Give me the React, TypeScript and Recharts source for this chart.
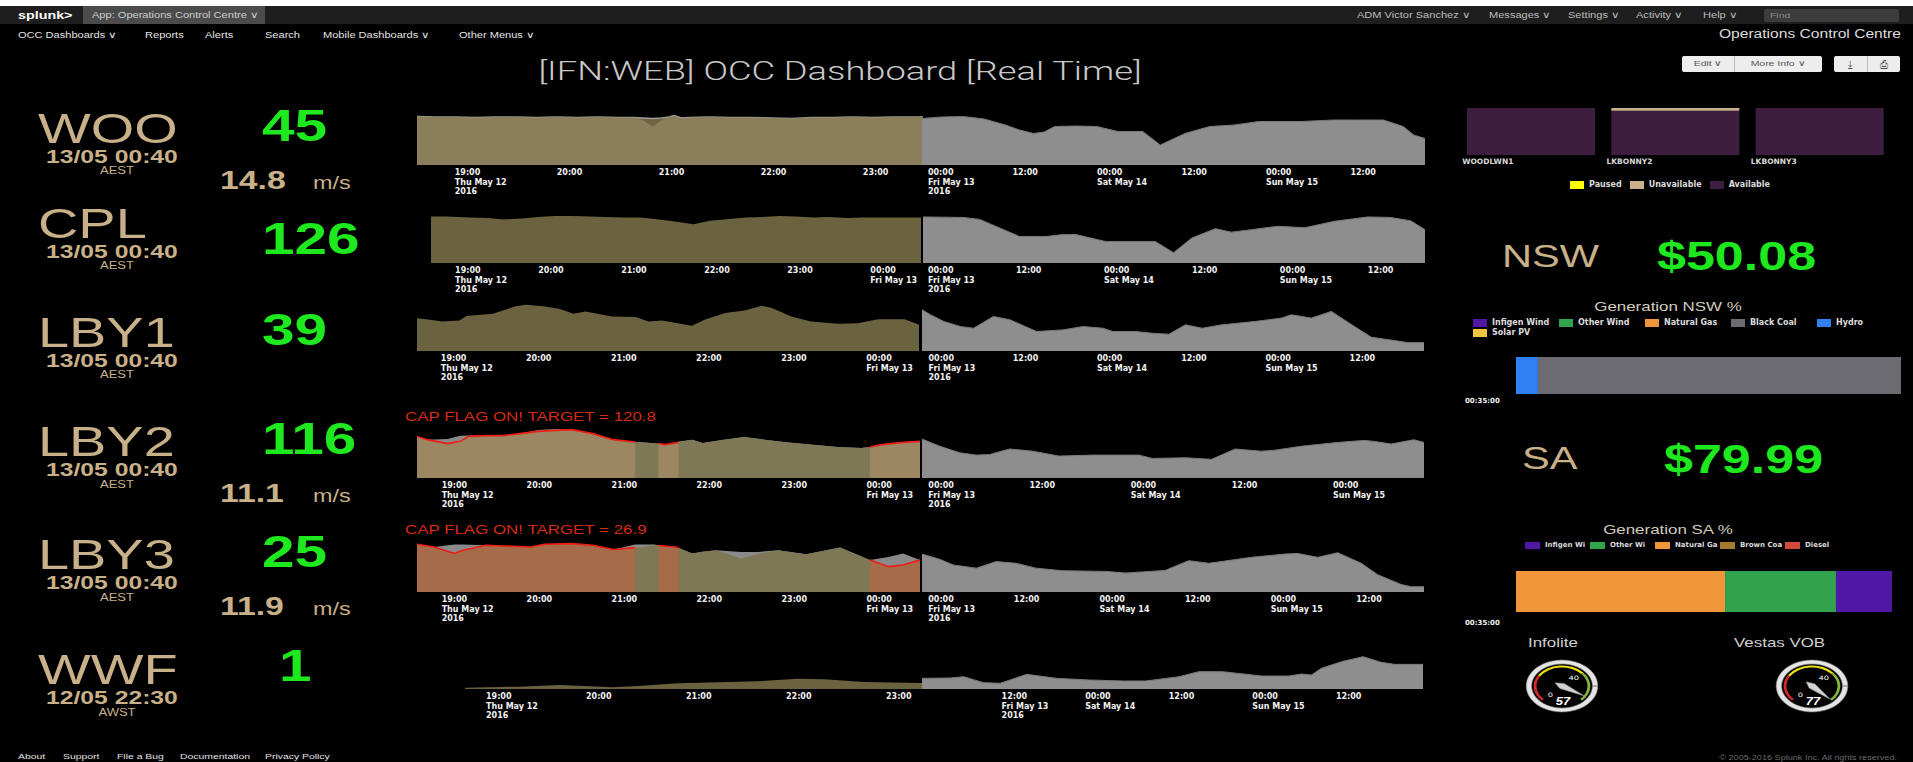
import React from "react";
import { ComposedChart, Area, Line, XAxis, YAxis, BarChart, Bar, PieChart, Pie, Cell } from "recharts";

// the screenshot is stretched sideways, so text gets the same stretch
const SX = 1.3;
const SANS = "'Liberation Sans', Arial, sans-serif";
const ROBOTO = "Roboto, 'Liberation Sans', sans-serif";
const TINY = "'DejaVu Sans', sans-serif";
const TAN = "#c8b088";
const GREEN = "#1ee81e";

// ---- site summary ----
const SITES = ["WOO", "CPL", "LBY1", "LBY2", "LBY3", "WWF"];
const SITE_MW = [45, 126, 39, 116, 25, 1];
const SITE_STAMP = ["13/05 00:40", "13/05 00:40", "13/05 00:40", "13/05 00:40", "13/05 00:40", "12/05 22:30"];
const SITE_TZ = ["AEST", "AEST", "AEST", "AEST", "AEST", "AWST"];
const SITE_WIND: (number | null)[] = [14.8, null, null, 11.1, 11.9, null];
const CAP_TARGET: (number | null)[] = [null, null, null, 120.8, 26.9, null];

// ---- realtime trends, hours after 19:00 Thu May 12 ----
const WOO_T = [-0.37, -0.2, 0, 0.2, 0.4, 0.6, 0.8, 1.0, 1.2, 1.4, 1.6, 1.75, 1.84, 1.94, 2.03, 2.1, 2.15, 2.22, 2.3, 2.5, 2.7, 2.9, 3.1, 3.3, 3.5, 3.7, 3.9, 4.1, 4.3, 4.59];
const WOO_OUT = [97, 96, 96, 95, 96, 96, 95, 96, 95, 96, 95, 95, 90, 77, 90, 96, 99, 91, 95, 96, 95, 95, 94, 93, 95, 95, 96, 95, 96, 96];
const WOO_AVAIL = [97, 96, 96, 95, 96, 96, 95, 96, 95, 96, 95, 95, 94, 93, 94, 96, 99, 94, 95, 96, 95, 95, 94, 93, 95, 95, 96, 95, 96, 96];

const CPL_T = [-0.29, -0.1, 0.17, 0.4, 0.58, 0.8, 1.0, 1.2, 1.4, 1.63, 1.8, 2.03, 2.23, 2.4, 2.58, 2.75, 2.87, 3.07, 3.3, 3.5, 3.7, 3.9, 4.1, 4.32, 4.5, 4.73, 4.9, 5.15, 5.4, 5.61];
const CPL_V = [95, 95, 93, 92, 89, 91, 94, 96, 96, 95, 94, 93, 93, 90, 86, 82, 79, 86, 90, 93, 94, 96, 95, 93, 94, 92, 93, 93, 93, 93];

const LBY1_T = [-0.29, -0.17, 0.02, 0.22, 0.3, 0.61, 0.88, 1.0, 1.2, 1.39, 1.56, 1.7, 2.01, 2.29, 2.44, 2.6, 2.95, 3.1, 3.34, 3.57, 3.77, 3.89, 4.12, 4.35, 4.67, 4.9, 5.14, 5.45, 5.62];
const LBY1_V = [68.5, 66, 61.5, 63.6, 73, 77.6, 93, 96.5, 93, 88, 77.6, 82.5, 72, 70.6, 61.5, 63.6, 52.4, 65, 79, 84.6, 94.4, 89.5, 72, 61.5, 56.6, 58, 66.4, 66.4, 54.5];

const LBY2_T = [-0.29, -0.17, 0.07, 0.22, 0.32, 0.52, 0.72, 0.92, 1.13, 1.33, 1.53, 1.78, 2.02, 2.28, 2.34, 2.55, 2.63, 2.79, 2.95, 3.07, 3.32, 3.56, 3.8, 4.05, 4.37, 4.66, 4.94, 5.04, 5.18, 5.43, 5.63];
const LBY2_V = [83, 76.7, 68.7, 73.3, 83.3, 84.7, 84.7, 88.7, 93.3, 95.3, 96.7, 88.7, 76.7, 72, 71.3, 69, 66.7, 71.3, 76.7, 70, 76.7, 82, 76.7, 71.3, 66.7, 62, 60, 62, 66.7, 71.3, 73.3];
const LBY2_POT = [83, 76.7, 78, 84.7, 85, 84.7, 84.7, 88.7, 96, 98, 98, 88.7, 76.7, 72, 71.3, 69, 66.7, 73, 76.7, 70, 76.7, 82, 76.7, 71.3, 66.7, 62, 60, 62, 66.7, 71.3, 73.3];
const LBY2_FLAG = [1, 1, 1, 1, 1, 1, 1, 1, 1, 1, 1, 1, 1, 1, 0, 1, 1, 1, 0, 0, 0, 0, 0, 0, 0, 0, 0, 1, 1, 1, 1];

const LBY3_T = [-0.29, -0.09, 0.15, 0.25, 0.52, 0.84, 1.05, 1.21, 1.53, 1.78, 2.02, 2.28, 2.34, 2.51, 2.55, 2.75, 2.79, 2.95, 3.07, 3.23, 3.52, 3.72, 3.96, 4.29, 4.69, 5.04, 5.26, 5.43, 5.63];
const LBY3_V = [95.4, 90, 77, 83.6, 93.4, 91.4, 90, 95.4, 96.7, 93.4, 84.9, 88.8, 89, 93.4, 93, 90, 88, 77, 80.3, 83.6, 67, 75.7, 83.6, 75.7, 88.8, 63.8, 50.7, 54, 63.8];
const LBY3_POT = [95.4, 90, 95, 95, 93.4, 91.4, 90, 95.4, 96.7, 93.4, 84.9, 95, 95, 95, 93, 90, 88, 77, 80.3, 83.6, 80, 80, 83.6, 75.7, 88.8, 63.8, 70, 77, 63.8];
const LBY3_FLAG = [1, 1, 1, 1, 1, 1, 1, 1, 1, 1, 1, 1, 0, 0, 1, 1, 1, 0, 0, 0, 0, 0, 0, 0, 0, 1, 1, 1, 1];

const WWF_T = [-0.21, 0.33, 0.73, 0.99, 1.26, 1.52, 1.92, 2.32, 2.72, 3.11, 3.38, 3.78, 4.36];
const WWF_V = [3, 5.3, 9, 6.8, 3.8, 6.8, 12.9, 15.2, 17.4, 23.5, 22, 15.9, 13.6];

// ---- forecasts, hours after 00:00 Fri May 13 ----
const WOO_RH = [-0.85, 2, 5, 8, 11, 13, 15, 16.5, 18, 21, 24, 27, 30.5, 33, 36.5, 40, 43.5, 47, 53, 57.6, 61, 64.7, 67.5, 69, 70.6];
const WOO_RV = [93, 96, 97, 92, 80, 70, 63, 66, 77, 78, 77, 67, 67, 40, 63, 77, 80, 87, 87, 90, 90, 90, 77, 60, 53];
const CPL_RH = [-0.68, 4.8, 7.05, 12.5, 16.1, 18.35, 20.2, 24.2, 31, 33.5, 36, 39.2, 41.4, 44.1, 47.75, 51.4, 55.4, 60, 63.1, 65.85, 67.8];
const CPL_RV = [94, 93, 89, 54, 54, 58, 58, 44, 44, 21, 51, 70, 63, 68, 75, 72, 85, 94, 93, 86, 68];
const LBY1_RH = [-0.93, 0.28, 2.18, 4.53, 6.42, 9.25, 11.6, 15.4, 19.15, 22, 24.85, 26.25, 29.5, 31.9, 34.25, 36.6, 39, 41.8, 46.5, 50.3, 51.7, 54.55, 57.4, 60.7, 63.1, 66.4, 68.3, 70.6];
const LBY1_RV = [86, 75.5, 61.5, 51, 47.5, 72, 65, 40.6, 44, 51, 47.5, 40.6, 40.6, 37, 35, 54.5, 47.5, 54.5, 61.5, 68.5, 75.5, 68.5, 82.5, 51, 28.7, 21.7, 17.5, 17.5];
const LBY2_RH = [-0.75, 1.38, 3.74, 5.7, 7.28, 9.64, 12.4, 15.5, 19.5, 25, 26.55, 30.5, 33.6, 36.4, 39.5, 41.1, 44.2, 48.6, 51.7, 52.9, 54.9, 57.6, 58.8];
const LBY2_RV = [77.8, 63.4, 50.3, 45.8, 47, 58, 53.6, 43.8, 45.8, 45.8, 39.2, 40.5, 37.3, 58, 53.6, 55.6, 63.4, 71.2, 75.2, 73.2, 68, 76.5, 71.2];
const LBY3_RH = [-0.88, 1.63, 3.49, 6.74, 9.53, 12.3, 15.1, 18.8, 24.9, 27.7, 33.2, 36.5, 39.3, 40.7, 45.3, 50, 51.8, 54.6, 57.4, 60.7, 63, 66.3, 67.7, 69.5];
const LBY3_RV = [74.4, 64, 53, 46.8, 59.6, 56.4, 46.8, 41.7, 40.4, 37.2, 42.3, 61.5, 56.4, 59, 68, 74.4, 75.6, 68, 77, 56.4, 34, 14.7, 10.3, 10.3];
const WWF_RH = [0.57, 4.65, 6.56, 9.4, 11.8, 15.6, 19.9, 24.6, 29.4, 32.7, 37.5, 40.3, 43.7, 49.4, 53.2, 55.1, 56.5, 57.9, 60.8, 63.9, 66.5, 68.4, 72.5];
const WWF_RV = [24.2, 25, 28, 14.4, 12.9, 33.3, 24.2, 20.5, 18.2, 18.2, 28, 39.4, 39.4, 29.5, 29.5, 34, 31.8, 47, 62, 73.5, 60.6, 56, 56];

// ---- tick labels ----
const LEFT_TICKS: Record<number, string[]> = {
  0: ["19:00", "Thu May 12", "2016"], 1: ["20:00"], 2: ["21:00"], 3: ["22:00"], 4: ["23:00"], 5: ["00:00", "Fri May 13"],
};
const RIGHT_TICKS: Record<number, string[]> = {
  0: ["00:00", "Fri May 13", "2016"], 12: ["12:00"], 24: ["00:00", "Sat May 14"], 36: ["12:00"], 48: ["00:00", "Sun May 15"], 60: ["12:00"],
};
const WWF_RIGHT_TICKS: Record<number, string[]> = {
  12: ["12:00", "Fri May 13", "2016"], 24: ["00:00", "Sat May 14"], 36: ["12:00"], 48: ["00:00", "Sun May 15"], 60: ["12:00"],
};

// ---- right column ----
const STATUS_UNITS = ["WOODLWN1", "LKBONNY2", "LKBONNY3"];
const STATUS_AVAILABLE = [100, 94, 100];
const STATUS_UNAVAILABLE = [0, 6, 0];
const STATUS_PAUSED = [0, 0, 0];
const STATUS_KEYS = ["Paused", "Unavailable", "Available"];

const REGIONS = ["NSW", "SA"];
const REGION_PRICE = [50.08, 79.99];
const GEN_TIME = "00:35:00";
const NSW_FUELS = ["Infigen Wind", "Other Wind", "Natural Gas", "Black Coal", "Hydro", "Solar PV"];
const NSW_SHARE = [0, 0, 0, 94.3, 5.7, 0];
const SA_FUELS = ["Infigen Wind", "Other Wind", "Natural Gas", "Brown Coal", "Diesel"];
const SA_SHARE = [14.9, 29.5, 55.6, 0, 0];
// the SA legend is cut short on screen
const SA_LEGEND_TEXT = ["Infigen Wi", "Other Wi", "Natural Ga", "Brown Coa", "Diesel"];

const GAUGES = ["Infolite", "Vestas VOB"];
const GAUGE_VALUES = [57, 77];
const GAUGE_MAX = 60;
const GAUGE_TICKS = [0, 40];
const GAUGE_BANDS = [17, 24, 19];

const FUEL_COLORS: Record<string, string> = {
  "Infigen Wind": "#5118a6", "Other Wind": "#31a34d", "Natural Gas": "#f0953a", "Black Coal": "#6d6b72",
  "Hydro": "#2f80f2", "Solar PV": "#f2c63e", "Brown Coal": "#a47a2e", "Diesel": "#d24b3a",
};
const STATUS_COLORS: Record<string, string> = { Paused: "#ffff00", Unavailable: "#c9b18a", Available: "#3e1e40" };

function Txt({ x, y, size, color = "#ddd", weight = 400, anchor = "start", font = SANS, sx = SX, italic = false, children }: any) {
  const shift = anchor === "middle" ? "-50%" : anchor === "end" ? "-100%" : "0";
  const origin = anchor === "middle" ? "center" : anchor === "end" ? "right" : "left";
  return (
    <div
      style={{
        position: "absolute", left: x, top: y - size * 0.745, fontSize: size, lineHeight: 0.8, color, fontWeight: weight,
        fontFamily: font, fontStyle: italic ? "italic" : "normal", whiteSpace: "nowrap",
        transform: `translateX(${shift}) scaleX(${sx})`, transformOrigin: origin,
      }}
    >
      {children}
    </div>
  );
}

const timeTick = (labels: Record<number, string[]>) => (p: any) => (
  <g transform={`translate(${p.x},${p.y})`}>
    {(labels[p.payload.value] || []).map((s, i) => (
      <text key={i} x={0} y={10 + i * 9.5} textAnchor="start" fill="#f2f2f2" fontSize={8} fontWeight={700} fontFamily={TINY}>
        {s}
      </text>
    ))}
  </g>
);

function Trend({ box, domain, data, labels, children }: any) {
  const ticks = Object.keys(labels).map(Number).filter((k) => k >= domain[0] && k <= domain[1]);
  return (
    <div style={{ position: "absolute", left: box.x, top: box.y }}>
      <ComposedChart width={box.w} height={box.h + 34} data={data} margin={{ top: 0, right: 0, bottom: 0, left: 0 }}>
        <XAxis
          type="number" dataKey="t" domain={domain} allowDataOverflow ticks={ticks} interval={0}
          tickLine={false} axisLine={false} tickSize={0} tickMargin={0} height={34} tick={timeTick(labels)}
        />
        <YAxis hide domain={[0, 100]} allowDataOverflow />
        {children}
      </ComposedChart>
    </div>
  );
}

const pairs = (t: number[], v: number[]) => t.map((x, i) => ({ t: x, v: v[i] }));

function Forecast({ box, domain, h, v, labels }: any) {
  return (
    <Trend box={box} domain={domain} data={pairs(h, v)} labels={labels}>
      <Area type="linear" dataKey="v" fill="#8e8e8e" fillOpacity={1} stroke="#7a7a7a" strokeWidth={1} isAnimationActive={false} />
    </Trend>
  );
}

function CapTrend({ box, t, v, pot, flag, flagColor }: any) {
  const data = t.map((x: number, i: number) => ({ t: x, pot: pot[i], v: v[i], cap: flag[i] ? v[i] : null }));
  return (
    <Trend box={box} domain={[-0.29, 5.63]} data={data} labels={LEFT_TICKS}>
      <Area type="linear" dataKey="pot" fill="#8a8a8a" fillOpacity={1} stroke="none" isAnimationActive={false} />
      <Area type="linear" dataKey="v" fill="#7e7856" fillOpacity={1} stroke="none" isAnimationActive={false} />
      <Area type="linear" dataKey="cap" fill={flagColor} fillOpacity={1} stroke="none" isAnimationActive={false} />
      <Line type="linear" dataKey="cap" stroke="#ee1c14" strokeWidth={1.6} dot={false} isAnimationActive={false} />
    </Trend>
  );
}

function Swatch({ color, w = 14, h = 8 }: any) {
  return <span style={{ display: "inline-block", width: w, height: h, background: color, marginRight: 5, verticalAlign: "middle" }} />;
}

function GenBar({ x, y, w, h, fuels, share }: any) {
  const row: any = { time: GEN_TIME };
  fuels.forEach((f: string, i: number) => (row[f] = share[i]));
  return (
    <div style={{ position: "absolute", left: x, top: y }}>
      <BarChart layout="vertical" width={w} height={h} data={[row]} margin={{ top: 0, right: 0, bottom: 0, left: 0 }} barCategoryGap={0}>
        <XAxis type="number" hide domain={[0, 100]} />
        <YAxis type="category" dataKey="time" hide />
        {[...fuels].reverse().map((f: string) => (
          <Bar key={f} dataKey={f} stackId="g" fill={FUEL_COLORS[f]} isAnimationActive={false} />
        ))}
      </BarChart>
    </div>
  );
}

function Gauge({ cx, cy, value }: any) {
  const shown = Math.min(value, GAUGE_MAX);
  const bands = GAUGE_BANDS.map((b) => ({ v: b }));
  const spans = GAUGE_TICKS.map((t, i) => ({ v: (GAUGE_TICKS[i + 1] ?? GAUGE_MAX) - t }));
  const needle = [{ v: shown }, { v: GAUGE_MAX - shown }];
  const tickLabel = (p: any) => {
    const a = (-p.startAngle * Math.PI) / 180;
    return (
      <text x={p.cx + Math.cos(a) * 12} y={p.cy + Math.sin(a) * 12 + 2.5} textAnchor="middle" fontSize={6} fill="#fff" fontFamily={TINY}>
        {GAUGE_TICKS[p.index]}
      </text>
    );
  };
  const needleShape = (p: any) => {
    if (p.index !== 0) return null;
    const a = (-p.endAngle * Math.PI) / 180;
    const pt = (r: number, d: number) => `${p.cx + Math.cos(a + d) * r},${p.cy + Math.sin(a + d) * r}`;
    return <polygon points={[pt(19, 0), pt(3, Math.PI / 2), pt(6, Math.PI), pt(3, -Math.PI / 2)].join(" ")} fill="#d2d2d2" stroke="#888" strokeWidth={0.5} />;
  };
  return (
    <div style={{ position: "absolute", left: cx - 27, top: cy - 27, transform: "scaleX(1.38)", transformOrigin: "center" }}>
      <PieChart width={54} height={54} margin={{ top: 0, right: 0, bottom: 0, left: 0 }}>
        <Pie data={[{ v: 1 }]} dataKey="v" cx={27} cy={27} innerRadius={22} outerRadius={26} fill="#e4e4e4" stroke="#777" strokeWidth={0.5} isAnimationActive={false} />
        <Pie data={bands} dataKey="v" cx={27} cy={27} startAngle={225} endAngle={-45} innerRadius={18.5} outerRadius={20.5} stroke="none" isAnimationActive={false}>
          <Cell fill="#d8282a" />
          <Cell fill="#f0e010" />
          <Cell fill="#84b83a" />
        </Pie>
        <Pie data={spans} dataKey="v" cx={27} cy={27} startAngle={225} endAngle={-45} outerRadius={15} fill="none" stroke="none" label={tickLabel} labelLine={false} isAnimationActive={false} />
        <Pie data={needle} dataKey="v" cx={27} cy={27} startAngle={225} endAngle={-45} outerRadius={19} fill="none" stroke="none" label={needleShape} labelLine={false} isAnimationActive={false} />
      </PieChart>
    </div>
  );
}

// layout (pixels)
const ROW_TEXT = [
  { name: 143, stamp: 163, tz: 174, mw: 142, wind: 189, cap: 0 },
  { name: 238, stamp: 258, tz: 269, mw: 255, wind: 0, cap: 0 },
  { name: 347, stamp: 367, tz: 378, mw: 346, wind: 0, cap: 0 },
  { name: 456, stamp: 476, tz: 488, mw: 455, wind: 502, cap: 422 },
  { name: 569, stamp: 589, tz: 601, mw: 568, wind: 615, cap: 535 },
  { name: 684, stamp: 704, tz: 716, mw: 682, wind: 0, cap: 0 },
];

export default function App() {
  const navRight: [string, number][] = [["ADM Victor Sanchez ∨", 1357], ["Messages ∨", 1489], ["Settings ∨", 1568], ["Activity ∨", 1636], ["Help ∨", 1703]];
  const navLeft: [string, number][] = [["OCC Dashboards ∨", 18], ["Reports", 145], ["Alerts", 205], ["Search", 265], ["Mobile Dashboards ∨", 323], ["Other Menus ∨", 459]];
  const footer: [string, number][] = [["About", 18], ["Support", 63], ["File a Bug", 117], ["Documentation", 180], ["Privacy Policy", 265]];
  const statusData = STATUS_UNITS.map((u, i) => ({ unit: u, Available: STATUS_AVAILABLE[i], Unavailable: STATUS_UNAVAILABLE[i], Paused: STATUS_PAUSED[i] }));

  return (
    <div style={{ position: "absolute", left: 0, top: 0, width: 1913, height: 762, background: "#000", overflow: "hidden", fontFamily: SANS }}>
      {/* header */}
      <div style={{ position: "absolute", left: 0, top: 0, width: 1913, height: 6, background: "#fff" }} />
      <div style={{ position: "absolute", left: 0, top: 6, width: 1913, height: 18, background: "#1e1e1e" }} />
      <div style={{ position: "absolute", left: 83, top: 6, width: 182, height: 18, background: "#4b4b4b" }} />
      <Txt x={18} y={19} size={11} color="#fff" weight={700}>splunk&gt;</Txt>
      <Txt x={92} y={18} size={8.5} color="#cfcfcf">App: Operations Control Centre ∨</Txt>
      {navRight.map(([s, x]) => <Txt key={s} x={x} y={18} size={8.5} color="#bdbdbd">{s}</Txt>)}
      <div style={{ position: "absolute", left: 1764, top: 9, width: 135, height: 13, background: "#3c3c3c", borderRadius: 2 }} />
      <Txt x={1770} y={19} size={8} color="#8a8a8a">Find</Txt>
      {navLeft.map(([s, x]) => <Txt key={s} x={x} y={38} size={8.5} color="#e4e4e4">{s}</Txt>)}
      <Txt x={1901} y={39} size={12} color="#dcdcdc" anchor="end">Operations Control Centre</Txt>
      <Txt x={840} y={81} size={25} color="#c8c8c8" weight={300} font={ROBOTO} anchor="middle" sx={1.45}>[IFN:WEB] OCC Dashboard [Real Time]</Txt>
      <div style={{ position: "absolute", left: 1682, top: 56, width: 140, height: 16, background: "#ededed", borderRadius: 2 }} />
      <div style={{ position: "absolute", left: 1734, top: 56, width: 1, height: 16, background: "#bbb" }} />
      <Txt x={1708} y={67} size={8} color="#555" anchor="middle">Edit ∨</Txt>
      <Txt x={1778} y={67} size={8} color="#555" anchor="middle">More Info ∨</Txt>
      <div style={{ position: "absolute", left: 1834, top: 56, width: 66, height: 16, background: "#ededed", borderRadius: 2 }} />
      <div style={{ position: "absolute", left: 1867, top: 56, width: 1, height: 16, background: "#bbb" }} />
      <Txt x={1850} y={68} size={10} color="#444" anchor="middle" sx={1}>⤓</Txt>
      <Txt x={1884} y={68} size={10} color="#444" anchor="middle" sx={1}>⎙</Txt>

      {/* site summary column */}
      {SITES.map((s, i) => {
        const r = ROW_TEXT[i];
        return (
          <React.Fragment key={s}>
            <Txt x={38} y={r.name} size={43} color={TAN}>{s}</Txt>
            <Txt x={46} y={r.stamp} size={19} color={TAN} weight={700}>{SITE_STAMP[i]}</Txt>
            <Txt x={117} y={r.tz} size={10} color={TAN} anchor="middle">{SITE_TZ[i]}</Txt>
            <Txt x={SITE_MW[i] < 10 ? 279 : 262} y={r.mw} size={45} color={GREEN} weight={700}>{SITE_MW[i]}</Txt>
            {SITE_WIND[i] !== null && (
              <>
                <Txt x={220} y={r.wind} size={26} color={TAN} weight={700}>{SITE_WIND[i]!.toFixed(1)}</Txt>
                <Txt x={313} y={r.wind} size={18} color={TAN}>m/s</Txt>
              </>
            )}
            {CAP_TARGET[i] !== null && (
              <Txt x={405} y={r.cap} size={13} color="#d62a12">{`CAP FLAG ON! TARGET = ${CAP_TARGET[i]}`}</Txt>
            )}
          </React.Fragment>
        );
      })}

      {/* WOO */}
      <Trend box={{ x: 417, y: 115, w: 506, h: 50 }} domain={[-0.37, 4.59]} labels={LEFT_TICKS}
        data={WOO_T.map((t, i) => ({ t, avail: WOO_AVAIL[i], out: WOO_OUT[i] }))}>
        <Area type="linear" dataKey="avail" fill="#6e6442" fillOpacity={1} stroke="#9c9c94" strokeWidth={1.6} isAnimationActive={false} />
        <Area type="linear" dataKey="out" fill="#8a7f5a" fillOpacity={1} stroke="none" isAnimationActive={false} />
      </Trend>
      <Forecast box={{ x: 922, y: 115, w: 503, h: 50 }} domain={[-0.85, 70.6]} h={WOO_RH} v={WOO_RV} labels={RIGHT_TICKS} />

      {/* CPL */}
      <Trend box={{ x: 431, y: 214, w: 490, h: 49 }} domain={[-0.29, 5.61]} labels={LEFT_TICKS} data={pairs(CPL_T, CPL_V)}>
        <Area type="linear" dataKey="v" fill="#6b6240" fillOpacity={1} stroke="none" isAnimationActive={false} />
      </Trend>
      <Forecast box={{ x: 923, y: 214, w: 502, h: 49 }} domain={[-0.68, 67.8]} h={CPL_RH} v={CPL_RV} labels={RIGHT_TICKS} />

      {/* LBY1 */}
      <Trend box={{ x: 417, y: 303, w: 502, h: 48 }} domain={[-0.28, 5.62]} labels={LEFT_TICKS} data={pairs(LBY1_T, LBY1_V)}>
        <Area type="linear" dataKey="v" fill="#6b6240" fillOpacity={1} stroke="none" isAnimationActive={false} />
      </Trend>
      <Forecast box={{ x: 922, y: 303, w: 502, h: 48 }} domain={[-0.93, 70.6]} h={LBY1_RH} v={LBY1_RV} labels={RIGHT_TICKS} />

      {/* LBY2 / LBY3 with cap flag */}
      <CapTrend box={{ x: 417, y: 428, w: 503, h: 50 }} t={LBY2_T} v={LBY2_V} pot={LBY2_POT} flag={LBY2_FLAG} flagColor="#9c8762" />
      <Forecast box={{ x: 922, y: 428, w: 502, h: 50 }} domain={[-0.75, 58.8]} h={LBY2_RH} v={LBY2_RV} labels={RIGHT_TICKS} />
      <CapTrend box={{ x: 417, y: 542, w: 503, h: 50 }} t={LBY3_T} v={LBY3_V} pot={LBY3_POT} flag={LBY3_FLAG} flagColor="#a66c4a" />
      <Forecast box={{ x: 922, y: 541, w: 502, h: 51 }} domain={[-0.88, 69.5]} h={LBY3_RH} v={LBY3_RV} labels={RIGHT_TICKS} />

      {/* WWF */}
      <Trend box={{ x: 465, y: 645, w: 457, h: 44 }} domain={[-0.21, 4.36]} labels={LEFT_TICKS} data={pairs(WWF_T, WWF_V)}>
        <Area type="linear" dataKey="v" fill="#6b6240" fillOpacity={1} stroke="none" isAnimationActive={false} />
      </Trend>
      <Forecast box={{ x: 922, y: 645, w: 501, h: 44 }} domain={[0.57, 72.5]} h={WWF_RH} v={WWF_RV} labels={WWF_RIGHT_TICKS} />

      {/* unit status */}
      <div style={{ position: "absolute", left: 1459, top: 108 }}>
        <BarChart width={433} height={61} data={statusData} margin={{ top: 0, right: 0, bottom: 0, left: 0 }} barCategoryGap={8}>
          <XAxis dataKey="unit" height={14} axisLine={false} tickLine={false} tickSize={0} tickMargin={0} interval={0}
            tick={(p: any) => (
              <text x={p.x - 69} y={p.y + 9} fill="#d8d8d8" fontSize={7.5} fontWeight={700} fontFamily={TINY}>{p.payload.value}</text>
            )} />
          <YAxis hide domain={[0, 100]} />
          <Bar dataKey="Available" stackId="s" fill={STATUS_COLORS.Available} isAnimationActive={false} />
          <Bar dataKey="Unavailable" stackId="s" fill={STATUS_COLORS.Unavailable} isAnimationActive={false} />
          <Bar dataKey="Paused" stackId="s" fill={STATUS_COLORS.Paused} isAnimationActive={false} />
        </BarChart>
      </div>
      <div style={{ position: "absolute", left: 1570, top: 180, display: "flex", fontFamily: TINY, fontSize: 8, fontWeight: 700, color: "#dcdcdc", lineHeight: "10px" }}>
        {STATUS_KEYS.map((k) => (
          <span key={k} style={{ marginRight: 8, whiteSpace: "nowrap" }}><Swatch color={STATUS_COLORS[k]} />{k}</span>
        ))}
      </div>

      {/* prices */}
      {REGIONS.map((r, i) => (
        <React.Fragment key={r}>
          <Txt x={i === 0 ? 1502 : 1522} y={i === 0 ? 268 : 470} size={32} color={TAN}>{r}</Txt>
          <Txt x={i === 0 ? 1657 : 1664} y={i === 0 ? 270 : 473} size={40} color={GREEN} weight={700}>{`$${REGION_PRICE[i].toFixed(2)}`}</Txt>
          <Txt x={1668} y={i === 0 ? 312 : 535} size={13} color="#d2ccbe" anchor="middle">{`Generation ${r} %`}</Txt>
          <Txt x={1465} y={i === 0 ? 404 : 626} size={7} color="#f2f2f2" weight={700} font={TINY} sx={1}>{GEN_TIME}</Txt>
        </React.Fragment>
      ))}
      <div style={{ position: "absolute", left: 1473, top: 318, width: 440, display: "flex", flexWrap: "wrap", fontFamily: TINY, fontSize: 8, fontWeight: 700, color: "#dcdcdc", lineHeight: "10px" }}>
        {NSW_FUELS.map((f) => (
          <span key={f} style={{ width: 86, whiteSpace: "nowrap" }}><Swatch color={FUEL_COLORS[f]} />{f}</span>
        ))}
      </div>
      <GenBar x={1516} y={357} w={385} h={37} fuels={NSW_FUELS} share={NSW_SHARE} />
      <div style={{ position: "absolute", left: 1525, top: 540, display: "flex", fontFamily: TINY, fontSize: 7, fontWeight: 700, color: "#dcdcdc", lineHeight: "10px" }}>
        {SA_FUELS.map((f, i) => (
          <span key={f} style={{ width: 65, whiteSpace: "nowrap" }}><Swatch color={FUEL_COLORS[f]} w={15} h={7} />{SA_LEGEND_TEXT[i]}</span>
        ))}
      </div>
      <GenBar x={1516} y={571} w={376} h={41} fuels={SA_FUELS} share={SA_SHARE} />

      {/* gauges */}
      {GAUGES.map((g, i) => {
        const cx = i === 0 ? 1562 : 1812;
        return (
          <React.Fragment key={g}>
            <Txt x={cx - 34 + (i === 0 ? 0 : -44)} y={648} size={13} color="#cfcfcf">{g}</Txt>
            <Gauge cx={cx} cy={686} value={GAUGE_VALUES[i]} />
            <Txt x={cx + 1} y={705} size={10} color="#fff" weight={700} italic anchor="middle">{GAUGE_VALUES[i]}</Txt>
          </React.Fragment>
        );
      })}

      {/* footer */}
      {footer.map(([s, x]) => <Txt key={s} x={x} y={760} size={8} color="#e0e0e0">{s}</Txt>)}
      <Txt x={1897} y={760} size={7} color="#6a6a6a" anchor="end">© 2005-2016 Splunk Inc. All rights reserved.</Txt>
    </div>
  );
}
